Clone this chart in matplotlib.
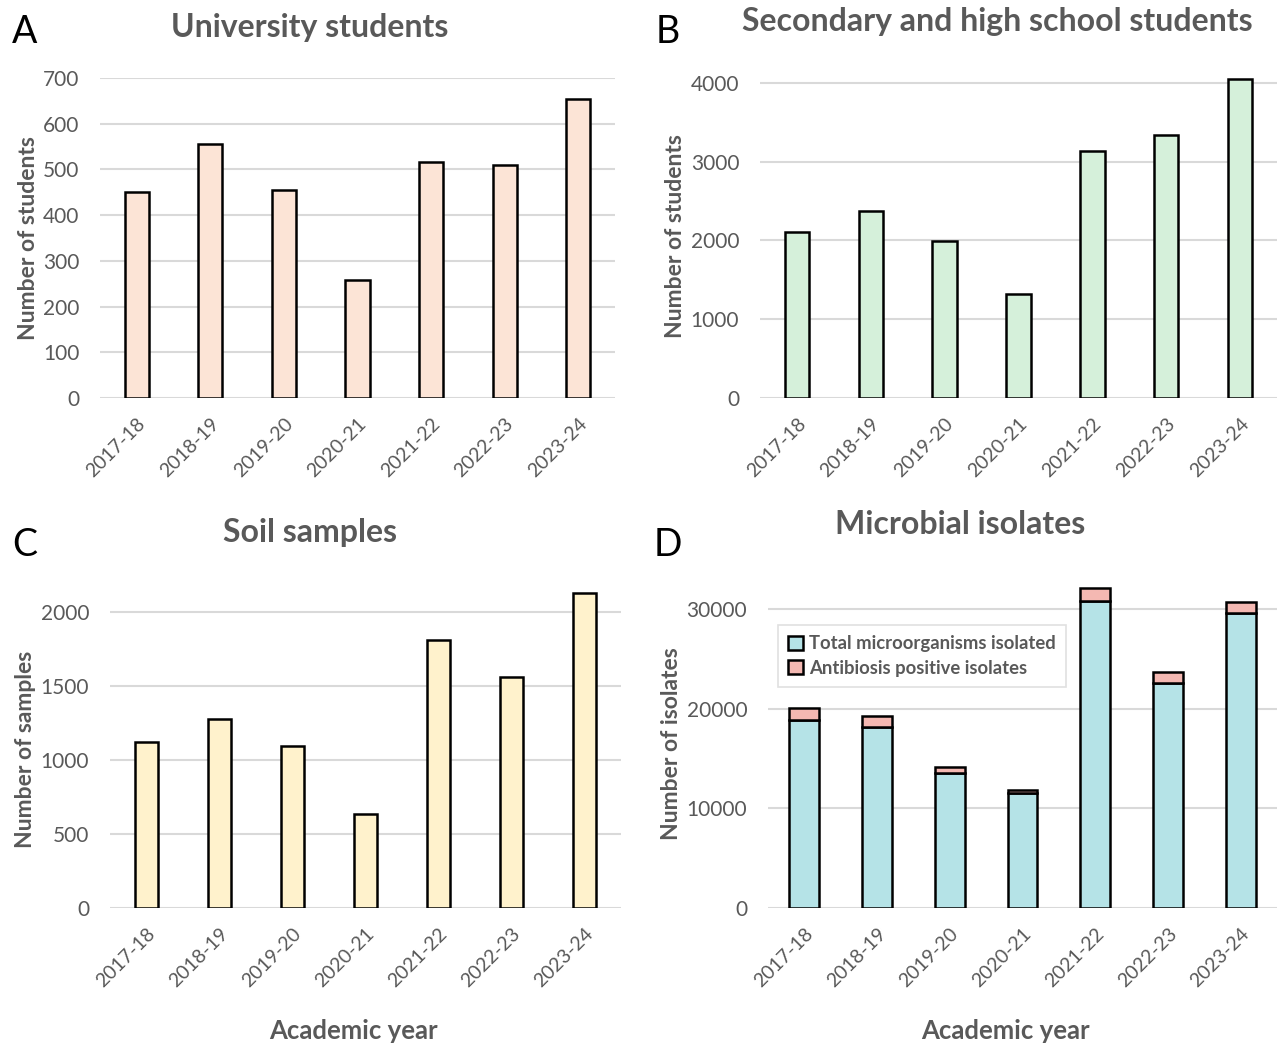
import matplotlib
matplotlib.use("Agg")
import matplotlib.pyplot as plt
import numpy as np

plt.rcParams['font.family'] = ['Lato', 'DejaVu Sans']

years = ["2017-18", "2018-19", "2019-20", "2020-21", "2021-22", "2022-23", "2023-24"]

# panel data
university = [450, 555, 455, 259, 517, 509, 654]
high_school = [2106, 2378, 1992, 1325, 3138, 3333, 4051]
soil = [1119, 1279, 1098, 633, 1812, 1564, 2129]
isolates_total = [18830, 18190, 13590, 11540, 30840, 22520, 29560]
isolates_positive = [1200, 1070, 570, 330, 1240, 1140, 1170]

GRAY = "#595959"
GRID = "#D9D9D9"

W, H = 1277, 1048
fig = plt.figure(figsize=(W / 100, H / 100), dpi=100)


def axes_px(left, right, top, bottom):
    """axes from pixel box of the reference"""
    return fig.add_axes([left / W, 1 - bottom / H, (right - left) / W, (bottom - top) / H])


def style(ax, ymax, ticks, ylabel):
    ax.set_xlim(-0.5, len(years) - 0.5)
    ax.set_ylim(0, ymax)
    ax.set_yticks(ticks)
    ax.set_yticklabels([str(t) for t in ticks])
    ax.set_xticks(np.arange(len(years)))
    ax.set_xticklabels(years, rotation=45, ha="right", rotation_mode="anchor")
    for s in ax.spines.values():
        s.set_visible(False)
    ax.tick_params(length=0, colors=GRAY)
    ax.tick_params(axis="y", labelsize=15, pad=15)
    ax.tick_params(axis="x", labelsize=14, pad=12)
    ax.yaxis.grid(True, color=GRID, lw=1.5)
    ax.set_axisbelow(True)
    ax.set_ylabel(ylabel, fontsize=16.5, fontweight="bold", color=GRAY, labelpad=3)


x = np.arange(len(years))

# A
axA = axes_px(100, 615, 78, 398)
axA.bar(x, university, width=0.33, color="#FCE4D6", edgecolor="black", lw=1.8)
style(axA, 700, range(0, 701, 100), "Number of students")

# B
axB = axes_px(760, 1277, 75, 398)
axB.bar(x, high_school, width=0.33, color="#D5F0DA", edgecolor="black", lw=1.8)
style(axB, 4100, range(0, 4001, 1000), "Number of students")

# C
axC = axes_px(110, 621, 590, 908)
axC.bar(x, soil, width=0.32, color="#FFF2CC", edgecolor="black", lw=1.8)
style(axC, 2150, range(0, 2001, 500), "Number of samples")

# D
axD = axes_px(768, 1277, 579, 908)
axD.bar(x, isolates_total, width=0.41, color="#B5E3E7", edgecolor="black", lw=1.8,
        label="Total microorganisms isolated")
axD.bar(x, isolates_positive, width=0.41, bottom=isolates_total, color="#F4B8B2",
        edgecolor="black", lw=1.8, label="Antibiosis positive isolates")
style(axD, 33000, range(0, 30001, 10000), "Number of isolates")
leg = axD.legend(loc="upper left", bbox_to_anchor=(0.02, 0.86), borderaxespad=0,
                 fontsize=13.3, handlelength=0.8, handleheight=0.8, handletextpad=0.3,
                 labelspacing=0.4, borderpad=0.55, fancybox=False, frameon=True)
leg.get_frame().set_edgecolor(GRID)
leg.get_frame().set_linewidth(1.2)
for t in leg.get_texts():
    t.set_color(GRAY)
    t.set_fontweight("bold")

# titles, x labels and panel letters
titles = [("University students", 310, 27), ("Secondary and high school students", 997, 22),
          ("Soil samples", 310, 533), ("Microbial isolates", 960, 525)]
for txt, px, py in titles:
    fig.text(px / W, 1 - py / H, txt, ha="center", va="center", fontsize=23,
             fontweight="bold", color=GRAY)

for px in (353, 1005):
    fig.text(px / W, 1 - 1031 / H, "Academic year", ha="center", va="center",
             fontsize=18.5, fontweight="bold", color=GRAY)

letters = [("A", 25, 32), ("B", 668, 32), ("C", 25, 545), ("D", 668, 545)]
for txt, px, py in letters:
    fig.text(px / W, 1 - py / H, txt, ha="center", va="center", fontsize=27, color="black")

fig.savefig("out.png", dpi=100)
